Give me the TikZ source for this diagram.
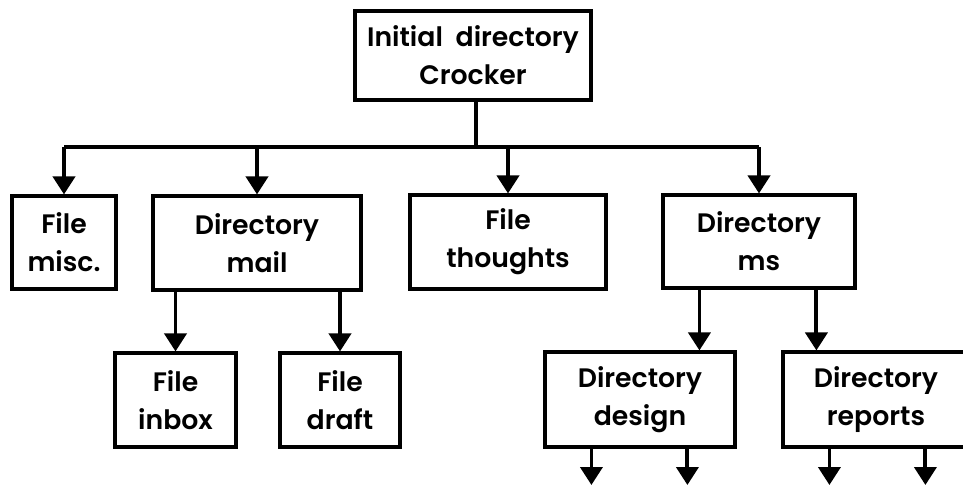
\documentclass[tikz,border=0pt]{standalone}
\usepackage{fontspec}
\setmainfont{Poppins}
\newfontfamily\boxfont{Poppins SemiBold}
\usetikzlibrary{arrows.meta}
\tikzset{
	dirbox/.style = {draw, line width=1.8pt, align=center, inner sep=0pt,
		font=\boxfont\fontsize{15.2}{21.5}\selectfont},
	link/.style = {line width=2.2pt},
	down/.style = {link, -{Triangle[width=0.44cm, length=0.36cm]}}
}

\begin{document}
\begin{tikzpicture}[x=0.02cm, y=-0.02cm]
					\clip (0,0) rectangle (963,485);
					% ====== Root ========
					\node[dirbox, minimum width=4.72cm, minimum height=1.78cm] (root) at (473,55.5) {Initial \ directory\\Crocker};
					% ====== First level ========
					\node[dirbox, minimum width=2.08cm, minimum height=1.86cm] (misc) at (64,242.5) {File\\misc.};
					\node[dirbox, minimum width=4.16cm, minimum height=1.88cm] (mail) at (257,243) {Directory\\mail};
					\node[dirbox, minimum width=3.92cm, minimum height=1.88cm] (thoughts) at (508,242) {File\\thoughts};
					\node[dirbox, minimum width=3.84cm, minimum height=1.86cm] (ms) at (759,241.5) {Directory\\ms};
					% ====== Second level ========
					\node[dirbox, minimum width=2.42cm, minimum height=1.88cm] (inbox) at (175.5,400) {File\\inbox};
					\node[dirbox, minimum width=2.40cm, minimum height=1.88cm] (draft) at (340,400) {File\\draft};
					\node[dirbox, minimum width=3.80cm, minimum height=1.90cm] (design) at (640,399.5) {Directory\\design};
					\node[dirbox, minimum width=3.72cm, minimum height=1.90cm] (reports) at (876,399.5) {Directory\\reports};
					% ====== Links ========
					\coordinate (bus) at (476,147);
					\coordinate (bot) at (0,485);
					\draw[link] (bus |- root.south) -- (bus);
					\draw[link] (misc.north |- bus) -- (ms.north |- bus);
					\foreach \n in {misc, mail, thoughts, ms} {\draw[down] (\n.north |- bus) -- (\n.north);}
					\draw[down] (mail.south -| inbox) -- (inbox.north);
					\draw[down] (mail.south -| draft) -- (draft.north);
					\draw[down] ([xshift=0.76cm]ms.south west) coordinate (m1) -- (m1 |- design.north);
					\draw[down] ([xshift=3.1cm]ms.south west) coordinate (m2) -- (m2 |- reports.north);
					\foreach \n in {design, reports} {
						\draw[down] ([xshift=0.96cm]\n.south west) coordinate (a) -- (a |- bot);
						\draw[down] ([xshift=2.88cm]\n.south west) coordinate (b) -- (b |- bot);
					}
				\end{tikzpicture}
\end{document}
